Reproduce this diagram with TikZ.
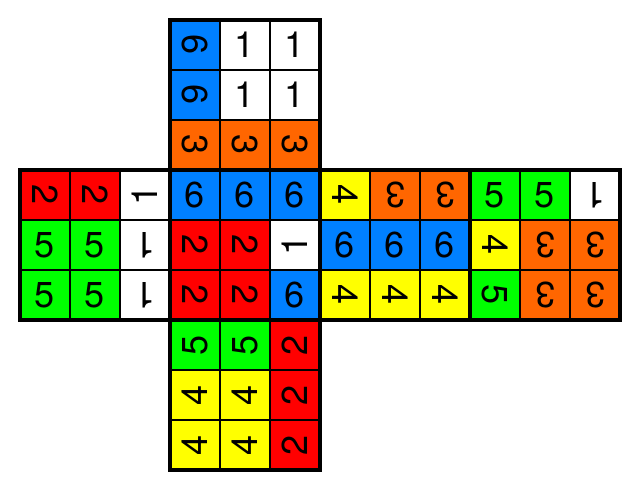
\documentclass[tikz,border=0pt]{standalone}
\usepackage{fontspec}
\setmainfont{TeX Gyre Heros}
\usepackage{graphicx}
\definecolor{cubeblue}{RGB}{0,128,255}
\definecolor{cubered}{RGB}{255,0,0}
\definecolor{cubegreen}{RGB}{0,255,0}
\definecolor{cubeyellow}{RGB}{255,255,0}
\definecolor{cubeorange}{RGB}{255,102,0}
\definecolor{cubewhite}{RGB}{255,255,255}
\tikzstyle{cell}=[draw,line width=1.1pt,minimum size=1cm,inner sep=0pt,outer sep=0pt,font=\fontsize{20.5}{24}\selectfont]
\tikzstyle{facebox}=[line width=1.8pt]

\begin{document}
\begin{tikzpicture}
    \useasboundingbox (-0.4,-0.4) rectangle (12.4,9.4);
    % up face
    \foreach \name/\x/\y/\c/\n/\r in {u1/3.5/8.5/cubeblue/6/-90,u2/4.5/8.5/cubewhite/1/0,u3/5.5/8.5/cubewhite/1/0,
        u4/3.5/7.5/cubeblue/6/-90,u5/4.5/7.5/cubewhite/1/0,u6/5.5/7.5/cubewhite/1/0,
        u7/3.5/6.5/cubeorange/3/-90,u8/4.5/6.5/cubeorange/3/-90,u9/5.5/6.5/cubeorange/3/-90}
    \node[cell,fill=\c] (\name) at (\x,\y) {\rotatebox{\r}{\n}};
    % left face
    \foreach \name/\x/\y/\c/\n/\r in {l1/0.5/5.5/cubered/2/-90,l2/1.5/5.5/cubered/2/-90,l3/2.5/5.5/cubewhite/1/90,
        l4/0.5/4.5/cubegreen/5/0,l5/1.5/4.5/cubegreen/5/0,l6/2.5/4.5/cubewhite/1/180,
        l7/0.5/3.5/cubegreen/5/0,l8/1.5/3.5/cubegreen/5/0,l9/2.5/3.5/cubewhite/1/180}
    \node[cell,fill=\c] (\name) at (\x,\y) {\rotatebox{\r}{\n}};
    % front face
    \foreach \name/\x/\y/\c/\n/\r in {f1/3.5/5.5/cubeblue/6/0,f2/4.5/5.5/cubeblue/6/0,f3/5.5/5.5/cubeblue/6/0,
        f4/3.5/4.5/cubered/2/-90,f5/4.5/4.5/cubered/2/-90,f6/5.5/4.5/cubewhite/1/90,
        f7/3.5/3.5/cubered/2/-90,f8/4.5/3.5/cubered/2/-90,f9/5.5/3.5/cubeblue/6/0}
    \node[cell,fill=\c] (\name) at (\x,\y) {\rotatebox{\r}{\n}};
    % right face
    \foreach \name/\x/\y/\c/\n/\r in {r1/6.5/5.5/cubeyellow/4/-90,r2/7.5/5.5/cubeorange/3/180,r3/8.5/5.5/cubeorange/3/180,
        r4/6.5/4.5/cubeblue/6/0,r5/7.5/4.5/cubeblue/6/0,r6/8.5/4.5/cubeblue/6/0,
        r7/6.5/3.5/cubeyellow/4/-90,r8/7.5/3.5/cubeyellow/4/-90,r9/8.5/3.5/cubeyellow/4/-90}
    \node[cell,fill=\c] (\name) at (\x,\y) {\rotatebox{\r}{\n}};
    % back face
    \foreach \name/\x/\y/\c/\n/\r in {b1/9.5/5.5/cubegreen/5/0,b2/10.5/5.5/cubegreen/5/0,b3/11.5/5.5/cubewhite/1/180,
        b4/9.5/4.5/cubeyellow/4/-90,b5/10.5/4.5/cubeorange/3/180,b6/11.5/4.5/cubeorange/3/180,
        b7/9.5/3.5/cubegreen/5/-90,b8/10.5/3.5/cubeorange/3/180,b9/11.5/3.5/cubeorange/3/180}
    \node[cell,fill=\c] (\name) at (\x,\y) {\rotatebox{\r}{\n}};
    % down face
    \foreach \name/\x/\y/\c/\n/\r in {d1/3.5/2.5/cubegreen/5/90,d2/4.5/2.5/cubegreen/5/90,d3/5.5/2.5/cubered/2/90,
        d4/3.5/1.5/cubeyellow/4/90,d5/4.5/1.5/cubeyellow/4/90,d6/5.5/1.5/cubered/2/90,
        d7/3.5/0.5/cubeyellow/4/90,d8/4.5/0.5/cubeyellow/4/90,d9/5.5/0.5/cubered/2/90}
    \node[cell,fill=\c] (\name) at (\x,\y) {\rotatebox{\r}{\n}};

    \foreach \face in {u,l,f,r,b,d}
    \draw[facebox] (\face1.north west) rectangle (\face9.south east);
\end{tikzpicture}
\end{document}
